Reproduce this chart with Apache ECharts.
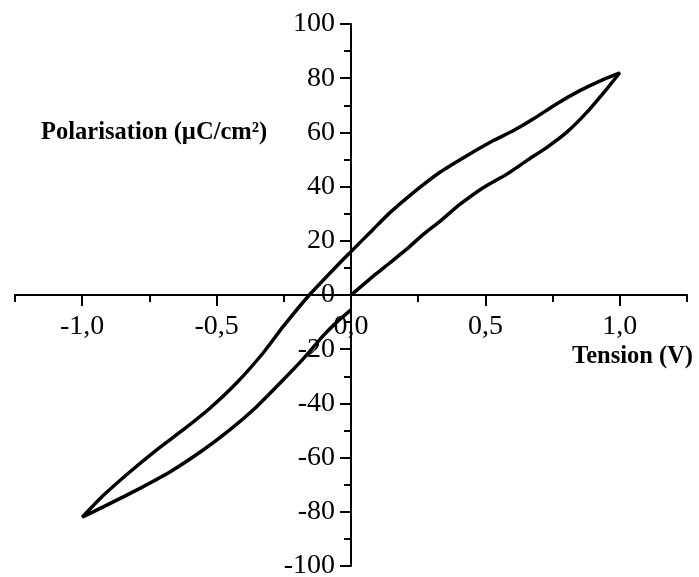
<!DOCTYPE html>
<html>
<head>
<meta charset="utf-8">
<script src="https://cdn.jsdelivr.net/npm/echarts@6/dist/echarts.min.js"></script>
<style>
html,body{margin:0;padding:0;background:#fff;}
#chart{width:699px;height:577px;}
</style>
</head>
<body>
<div id="chart"></div>
<script>
// Rising branch: from origin up to +1 V
const riseV = [0, 0.083, 0.145, 0.207, 0.269, 0.331, 0.406, 0.493, 0.58, 0.654, 0.729, 0.803, 0.878, 0.952, 1.0];
const riseP = [0, 7, 11.9, 16.9, 22.4, 27.2, 33.5, 39.7, 44.6, 49.6, 54.5, 60.1, 67.5, 76.1, 82];
// Falling branch: from +1 V down to -1 V
const fallV = [1.0, 0.94, 0.853, 0.766, 0.679, 0.605, 0.53, 0.431, 0.331, 0.232, 0.145, 0.083, 0, -0.041, -0.155, -0.252, -0.327, -0.426, -0.525, -0.625, -0.724, -0.823, -0.922, -1.0];
const fallP = [82, 79.6, 75.5, 70.6, 65, 60.7, 57, 51.4, 45.3, 37.8, 30.4, 24.3, 16, 11.9, 0, -11.6, -21.4, -32.5, -41.8, -49.8, -57.2, -65.3, -74, -82];
// Return branch: from -1 V back to 0 V
const backV = [-1.0, -0.922, -0.798, -0.674, -0.55, -0.451, -0.351, -0.252, -0.177, -0.103, -0.053, 0];
const backP = [-82, -78.2, -72, -65.3, -57.2, -49.8, -41.2, -31.3, -23.5, -15, -10, -5.5];

const xMajorTicks = [-1.0, -0.5, 0.0, 0.5, 1.0];
const xTitle = 'Tension (V)';
const yTitle = 'Polarisation (µC/cm²)';

const loop = [];
[[riseV, riseP], [fallV, fallP], [backV, backP]].forEach(function (b, k) {
  for (let i = (k === 0 ? 0 : 1); i < b[0].length; i++) loop.push([b[0][i], b[1][i]]);
});

const FONT = 'Liberation Serif';
const W = 699, H = 577;
const G = { left: 15, right: 12, top: 24, bottom: 11 };
// axes cross at the centre of the symmetric ranges; move them there with offsets
const yAxisOffset = -((W - G.left - G.right) / 2);
const xAxisOffset = -((H - G.top - G.bottom) / 2);

const chart = echarts.init(document.getElementById('chart'));
chart.setOption({
  animation: false,
  backgroundColor: '#fff',
  grid: { left: G.left, right: G.right, top: G.top, bottom: G.bottom, outerBoundsMode: 'none' },
  xAxis: [{
    type: 'value', position: 'bottom', offset: xAxisOffset, min: -1.25, max: 1.25, interval: 0.25,
    axisLine: { onZero: false, lineStyle: { color: '#000', width: 2 } },
    axisTick: { show: true, length: 7, lineStyle: { color: '#000', width: 2 } },
    axisLabel: {
      show: true, margin: 18, color: '#000', fontFamily: FONT, fontSize: 28,
      formatter: function (v) {
        const r = Math.round(v * 4);
        if (r % 2 !== 0) return '';
        return v.toFixed(1).replace('.', ',');
      }
    },
    splitLine: { show: false }
  }, {
    type: 'value', position: 'bottom', offset: xAxisOffset, min: -1.25, max: 1.25, interval: 0.25,
    axisLine: { show: false, onZero: false },
    axisTick: { show: true, customValues: xMajorTicks, length: 11, lineStyle: { color: '#000', width: 2 } },
    axisLabel: { show: false },
    splitLine: { show: false }
  }],
  yAxis: {
    type: 'value', position: 'left', offset: yAxisOffset, min: -100, max: 100, interval: 20,
    axisLine: { onZero: false, lineStyle: { color: '#000', width: 2 } },
    axisTick: { show: true, length: 11, lineStyle: { color: '#000', width: 2 } },
    minorTick: { show: true, splitNumber: 2, length: 7, lineStyle: { color: '#000', width: 2 } },
    axisLabel: { show: true, margin: 16, color: '#000', fontFamily: FONT, fontSize: 28 },
    splitLine: { show: false }
  },
  graphic: [
    { type: 'text', style: { x: 41, y: 133, text: yTitle, font: 'bold 24.5px "Liberation Serif"', fill: '#000', textAlign: 'left', textVerticalAlign: 'middle', verticalAlign: 'middle' } },
    { type: 'text', style: { x: 693, y: 357, text: xTitle, font: 'bold 24.5px "Liberation Serif"', fill: '#000', textAlign: 'right', align: 'right', textVerticalAlign: 'middle', verticalAlign: 'middle' } }
  ],
  series: [{
    type: 'line', xAxisIndex: 0, data: loop, showSymbol: false, smooth: 0.2,
    lineStyle: { color: '#000', width: 3.5 }
  }]
});
</script>
</body>
</html>
